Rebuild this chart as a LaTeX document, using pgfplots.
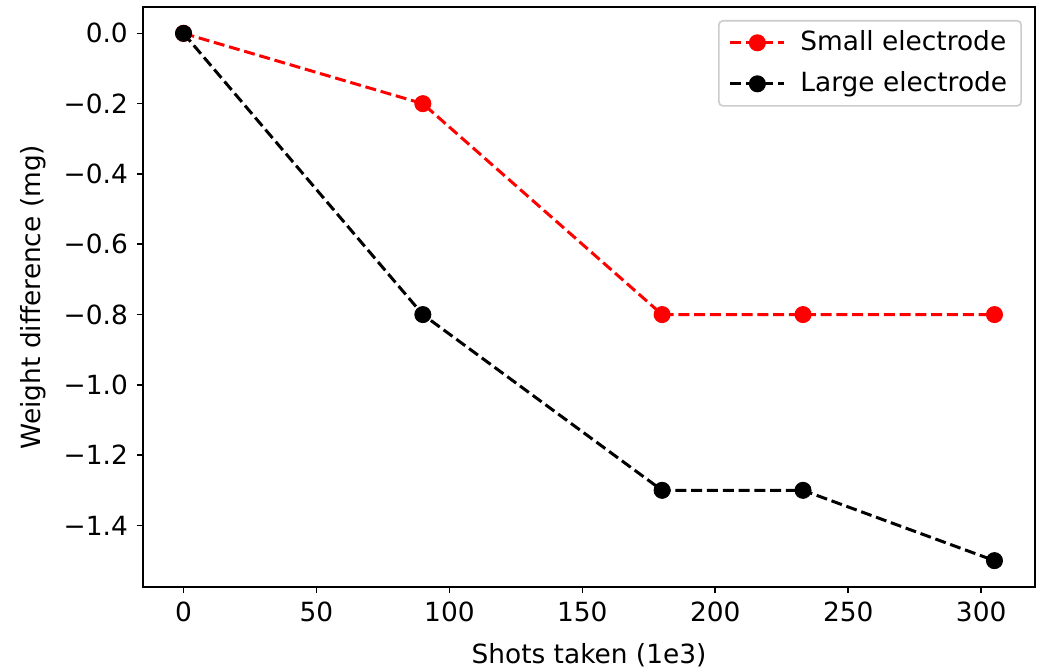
\documentclass[border=0pt]{standalone}
\usepackage{pgfplots}
\pgfplotsset{compat=1.18}
\usepackage{fontspec}
\setmainfont{DejaVu Sans}
\usetikzlibrary{calc}
\begin{document}
\fontsize{13.2pt}{15.5pt}\selectfont
\begin{tikzpicture}
\begin{axis}[
  scale only axis,
  width=446pt, height=290pt,
  xmin=-15.25, xmax=320.25,
  ymin=-1.575, ymax=0.075,
  xtick={0,50,...,300},
  ytick={0,-0.2,-0.4,-0.6,-0.8,-1.0,-1.2,-1.4},
  yticklabels={0.0,−0.2,−0.4,−0.6,−0.8,−1.0,−1.2,−1.4},
  /pgf/number format/assume math mode=true,
  ticklabel style={font=\fontsize{13.2pt}{15.5pt}\selectfont},
  label style={font=\fontsize{13.2pt}{15.5pt}\selectfont},
  tick align=outside,
  tick pos=left,
  major tick length=3pt,
  tick style={black, line width=0.8pt},
  axis line style={line width=0.8pt},
  xlabel={Shots taken (1e3)},
  ylabel={Weight difference (mg)},
  xlabel style={at={(axis description cs:0.5,-0.117)}, anchor=center},
  ylabel style={at={(axis description cs:-0.1233,0.5)}, anchor=center},
  legend cell align=left,
  legend style={draw=black!20, line width=0.8pt, rounded corners=2pt, inner xsep=5pt, inner ysep=3pt,
    font=\fontsize{13.2pt}{15.5pt}\selectfont, row sep=4.5pt,
    at={(0.9854,0.9776)}, anchor=north east},
  legend image code/.code={
    \path[draw=none, fill=none] (0pt,0pt) -- (33pt,0pt);
    \draw[#1] (0pt,0pt) -- (27pt,0pt);
    \draw[#1,solid] plot coordinates {(13.5pt,0pt)};
  },
]
\addplot[red, line width=1.5pt, dash pattern=on 5.5pt off 2.4pt, mark=*, mark size=4pt, mark options={solid, line width=0.5pt}]
  coordinates {(0,0) (90,-0.2) (180,-0.8) (233,-0.8) (305,-0.8)};
\addlegendentry{Small electrode}
\addplot[black, line width=1.5pt, dash pattern=on 5.5pt off 2.4pt, mark=*, mark size=4pt, mark options={solid, line width=0.5pt}]
  coordinates {(0,0) (90,-0.8) (180,-1.3) (233,-1.3) (305,-1.5)};
\addlegendentry{Large electrode}
\end{axis}
\pgfresetboundingbox
\path[use as bounding box] ($(current axis.south west)+(-71.5pt,-39.5pt)$) rectangle ($(current axis.north east)+(7pt,3.5pt)$);
\end{tikzpicture}
\end{document}
